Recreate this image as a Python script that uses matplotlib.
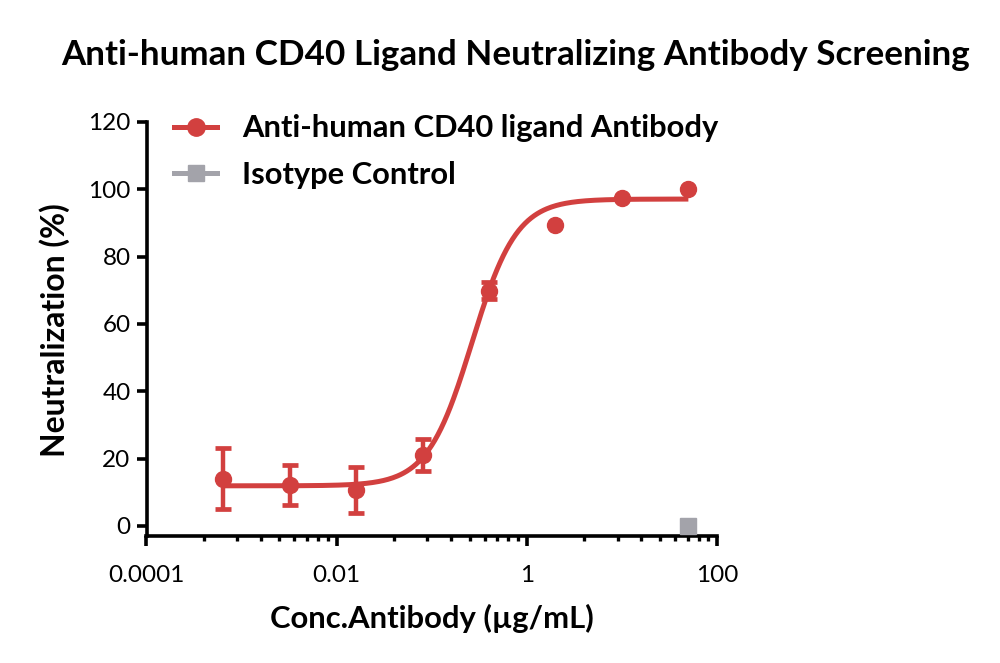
import numpy as np
import matplotlib
matplotlib.use("Agg")
import matplotlib.pyplot as plt
from matplotlib.ticker import FixedLocator, NullFormatter

# data
conc = [0.00064, 0.0032, 0.016, 0.08, 0.4, 2, 10, 50]          # ug/mL
neut = [14.0, 12.2, 10.7, 21.1, 69.9, 89.4, 97.4, 100.1]        # %
neut_err = [9.0, 5.9, 6.9, 4.8, 2.6, 0, 0, 0]
iso_conc = [50]
iso_neut = [0.0]

# 4PL fit parameters (bottom, top, EC50, hill) estimated from the drawn curve
fit_bottom, fit_top, fit_ec50, fit_hill = 11.9, 97.1, 0.265, 1.85

x_ticks = [0.0001, 0.01, 1, 100]
x_ticklabels = ["0.0001", "0.01", "1", "100"]
y_ticks = [0, 20, 40, 60, 80, 100, 120]

title = "Anti-human CD40 Ligand Neutralizing Antibody Screening"
labels = ["Anti-human CD40 ligand Antibody", "Isotype Control"]
xlabel = "Conc.Antibody (µg/mL)"
ylabel = "Neutralization (%)"

red = "#D2403F"
grey = "#A3A3AA"
font = "Lato"

fig = plt.figure(figsize=(10, 6.63), dpi=100)
renderer = fig.canvas.get_renderer()


def size_for(text, width_px, bold=True):
    # font size that makes `text` about width_px wide
    t = fig.text(0, 0, text, family=font, weight="bold" if bold else "normal", fontsize=20)
    w = t.get_window_extent(renderer).width
    t.remove()
    return 20 * width_px / w


title_size = size_for(title, 908)
legend_size = size_for(labels[0], 475)
xlabel_size = size_for(xlabel, 324)
ylabel_size = size_for(ylabel, 254)
tick_size = 17.5

ax = fig.add_axes([0.1465, 0.1916, 0.5705, 0.6244])

xs = np.logspace(np.log10(conc[0]), np.log10(conc[-1]), 300)
ys = fit_bottom + (fit_top - fit_bottom) / (1 + (fit_ec50 / xs) ** fit_hill)
ax.plot(xs, ys, color=red, lw=3.6, solid_capstyle="butt", zorder=2)

err_idx = [i for i, e in enumerate(neut_err) if e > 0]
ax.errorbar([conc[i] for i in err_idx], [neut[i] for i in err_idx],
            yerr=[neut_err[i] for i in err_idx], fmt="none", ecolor=red,
            elinewidth=3.2, capsize=5.8, capthick=3.4, zorder=3)
ax.plot(conc, neut, "o", color=red, ms=11.5, zorder=4)
ax.plot(iso_conc, iso_neut, "s", color=grey, ms=11, zorder=4, clip_on=False)

# legend proxies
h1, = ax.plot([], [], "-o", color=red, lw=3.6, ms=12.5)
h2, = ax.plot([], [], "-s", color=grey, lw=3.6, ms=11)
em = legend_size * 100 / 72
ax.legend([h1, h2], labels, loc="upper left",
          bbox_to_anchor=((174 - 0.4 * em - 146.5) / 570.5, 1 + (122 - (127 - 0.4 * em - 0.41 * em)) / 414),
          frameon=False, handlelength=43 / em, handletextpad=25 / em,
          labelspacing=(44 - 0.82 * em) / em, borderaxespad=0,
          prop={"family": font, "weight": "bold", "size": legend_size})

ax.set_xscale("log")
ax.set_xlim(0.0001, 100)
ax.set_ylim(-3, 120)

ax.xaxis.set_major_locator(FixedLocator(x_ticks))
ax.set_xticklabels(x_ticklabels)
minor = []
for base in x_ticks[:-1]:
    minor += [base * k * k for k in range(2, 10)]
ax.xaxis.set_minor_locator(FixedLocator(minor))
ax.xaxis.set_minor_formatter(NullFormatter())
ax.set_yticks(y_ticks)

for s in ["top", "right"]:
    ax.spines[s].set_visible(False)
for s in ["left", "bottom"]:
    ax.spines[s].set_linewidth(2.6)
ax.tick_params(axis="both", which="major", length=7, width=2.6, labelsize=tick_size)
ax.tick_params(axis="x", which="major", pad=14)
ax.tick_params(axis="y", which="major", pad=4.5)
ax.tick_params(axis="x", which="minor", length=3.5, width=2.4)
for lab in ax.get_xticklabels() + ax.get_yticklabels():
    lab.set_family(font)

fig.text(0.4317, 1 - 628 / 663, xlabel, ha="center", va="baseline",
         family=font, weight="bold", fontsize=xlabel_size)
fig.text(0.055, 1 - 330 / 663, ylabel, ha="center", va="center", rotation=90,
         family=font, weight="bold", fontsize=ylabel_size)
fig.text(0.516, 1 - 65 / 663, title, ha="center", va="baseline",
         family=font, weight="bold", fontsize=title_size)

fig.savefig("out.png", dpi=100)
